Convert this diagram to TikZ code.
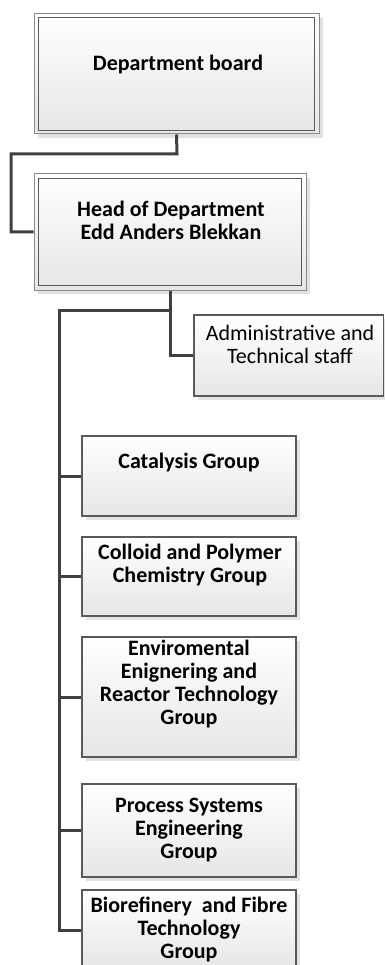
\documentclass[tikz,border=0pt]{standalone}
\usepackage{fontspec}
\setmainfont{Carlito}
\usetikzlibrary{shadows,positioning}
\definecolor{boxline}{HTML}{5A5A5A}
\definecolor{outerline}{HTML}{8A8A8A}
\definecolor{conn}{HTML}{404040}
\definecolor{shade}{HTML}{E2E2E2}
\definecolor{boxbottom}{HTML}{E6E6E6}
\tikzset{
  orgbox/.style={rectangle, inner sep=0pt, top color=white, bottom color=boxbottom,
    draw=boxline, line width=1.1pt,
    drop shadow={shadow xshift=4pt, shadow yshift=-4pt, fill=shade, opacity=1}},
  topbox/.style={orgbox, draw=outerline, line width=1pt},
  innerline/.style={draw=boxline, line width=1.3pt},
  conline/.style={draw=conn, line width=3pt},
  lbl/.style={align=center, font=\fontsize{22}{23}\selectfont\bfseries, inner sep=0pt},
  lblr/.style={align=center, font=\fontsize{22}{23}\selectfont, inner sep=0pt}
}
\begin{document}
\begin{tikzpicture}[x=1pt,y=-1pt]
\useasboundingbox (0,0) rectangle (384,965);
% boxes
\node[topbox, minimum width=285pt, minimum height=120pt] (board) at (176.5,74) {};
\node[topbox, minimum width=272pt, minimum height=116pt] (head) at (170,232) {};
\node[orgbox, minimum width=189.5pt, minimum height=81pt] (admin) at (288.75,355.5) {};
\node[orgbox, minimum width=214pt, minimum height=80pt] (cat) at (189,476) {};
\node[orgbox, minimum width=214pt, minimum height=79pt] (col) at (189,576.5) {};
\node[orgbox, minimum width=214pt, minimum height=120pt] (env) at (189,697) {};
\node[orgbox, minimum width=214pt, minimum height=93pt] (pro) at (189,830.5) {};
\node[orgbox, minimum width=214pt, minimum height=80pt] (bio) at (189,930) {};
% inner borders of top boxes
\draw[innerline] ([shift={(5,4)}]board.north west) rectangle ([shift={(-5,-4)}]board.south east);
\draw[innerline] ([shift={(5,5)}]head.north west) rectangle ([shift={(-5,-5)}]head.south east);
% labels
\node[lbl] (tboard) at (178,65) {Department board};
\node[lbl] (thead) at (171,220.5) {Head of Department\\Edd Anders Blekkan};
\node[lblr] (tadmin) at (290,344.5) {Administrative and\\Technical staff};
\node[lbl] (tcat) at (189,463) {Catalysis Group};
\node[lbl] (tcol) at (190,565.5) {Colloid and Polymer\\Chemistry Group};
\node[lbl] (tenv) at (189,684.5) {Enviromental\\Enignering and\\Reactor Technology\\Group};
\node[lbl] (tpro) at (189,830) {Process Systems\\Engineering\\Group};
\node[lbl] (tbio) at (189,929) {Biorefinery\ \ and Fibre\\Technology\\Group};
% connectors
\coordinate (b1) at (177,154);
\coordinate (b2) at (11,154);
\draw[conline] (board.south) -- (b1) -- (b2) |- (head.west);
\coordinate (h1) at (170,310);
\coordinate (trunk) at (59,310);
\draw[conline] (head.south) |- (admin.west);
\draw[conline] (h1) -- (trunk) |- (bio.west);
\draw[conline] (trunk |- cat.west) -- (cat.west);
\draw[conline] (trunk |- col.west) -- (col.west);
\draw[conline] (trunk |- env.west) -- (env.west);
\draw[conline] (trunk |- pro.west) -- (pro.west);
\end{tikzpicture}
\end{document}
